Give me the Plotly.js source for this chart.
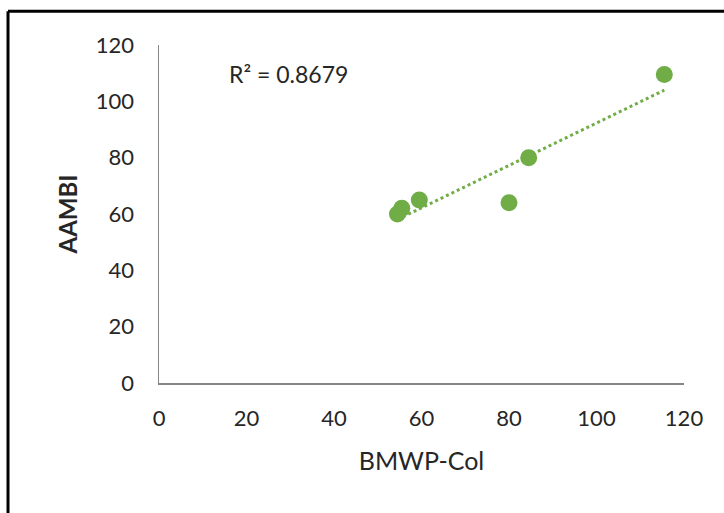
<!DOCTYPE html>
<html>
<head>
<meta charset="utf-8">
<script src="https://cdn.plot.ly/plotly-3.0.1.min.js"></script>
<style>html,body{margin:0;padding:0;background:#fff;}#chart{width:724px;height:513px;}</style>
</head>
<body>
<div id="chart"></div>
<script>
// Data
var bmwpCol = [54.5, 55.5, 59.5, 80, 84.5, 115.5];
var aambi   = [60, 62, 65, 64, 80, 109.5];
var xTicks = [0, 20, 40, 60, 80, 100, 120];
var yTicks = [0, 20, 40, 60, 80, 100, 120];
var r2Label = "R² = 0.8679";

// Least squares linear trendline from the data
var n = bmwpCol.length;
var mx = bmwpCol.reduce(function(a,b){return a+b;},0)/n;
var my = aambi.reduce(function(a,b){return a+b;},0)/n;
var sxy = 0, sxx = 0;
for (var i=0;i<n;i++){ sxy += (bmwpCol[i]-mx)*(aambi[i]-my); sxx += (bmwpCol[i]-mx)*(bmwpCol[i]-mx); }
var slope = sxy/sxx, intercept = my - slope*mx;
var xmin = Math.min.apply(null,bmwpCol), xmax = Math.max.apply(null,bmwpCol);
var trendX = [xmin, xmax];
var trendY = trendX.map(function(v){return intercept + slope*v;});

var green = '#70AD47';
var font = 'Lato, "Open Sans", sans-serif';
var txt = '#262626';

var traces = [
  {x: trendX, y: trendY, mode: 'lines', line: {color: green, width: 3, dash: 'dot'}, hoverinfo: 'skip', showlegend: false},
  {x: bmwpCol, y: aambi, mode: 'markers', marker: {color: green, size: 17}, showlegend: false}
];

var layout = {
  width: 724, height: 513,
  margin: {l: 159, r: 40, t: 45, b: 130},
  paper_bgcolor: '#fff', plot_bgcolor: '#fff',
  font: {family: font, size: 22, color: txt},
  showlegend: false,
  xaxis: {
    range: [0, 120], tickvals: xTicks, ticktext: xTicks.map(String),
    showgrid: false, zeroline: false, showline: true, linecolor: '#868686', linewidth: 1.5,
    ticks: '', ticklabelstandoff: 15,
    title: {text: 'BMWP-Col', font: {family: font, size: 25, color: txt}, standoff: 22}
  },
  yaxis: {
    range: [0, 120], tickvals: yTicks, ticktext: yTicks.map(String),
    showgrid: false, zeroline: false, showline: true, linecolor: '#868686', linewidth: 1.5,
    ticks: '', ticklabelstandoff: 19,
    title: {text: '<b>AAMBI</b>', font: {family: font, size: 24, color: txt}, standoff: 11}
  },
  annotations: [
    {xref: 'paper', yref: 'paper', x: 0.13, y: 0.914, xanchor: 'left', yanchor: 'middle',
     text: r2Label, showarrow: false, font: {family: font, size: 23, color: txt}}
  ],
  shapes: [
    {type: 'line', xref: 'paper', yref: 'paper', x0: -0.2876, x1: 1.2, y0: 1.1, y1: 1.1, line: {color: '#000', width: 3}},
    {type: 'line', xref: 'paper', yref: 'paper', x0: -0.2876, x1: -0.2876, y0: 1.1, y1: -0.4, line: {color: '#000', width: 3}}
  ]
};

Plotly.newPlot('chart', traces, layout, {displayModeBar: false, staticPlot: true});
</script>
</body>
</html>
